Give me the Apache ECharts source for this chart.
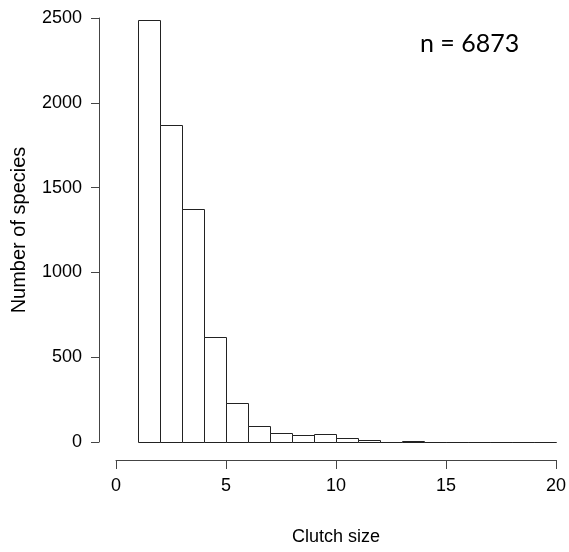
<!DOCTYPE html>
<html>
<head>
<meta charset="utf-8">
<script src="https://cdn.jsdelivr.net/npm/echarts@6/dist/echarts.min.js"></script>
<style>
  html, body { margin: 0; padding: 0; background: #fff; }
  #chart { width: 569px; height: 552px; }
</style>
</head>
<body>
<div id="chart"></div>
<script>
// histogram bins (clutch size), width 1
const binStart = [1, 2, 3, 4, 5, 6, 7, 8, 9, 10, 11, 12, 13, 14, 15, 16, 17, 18, 19]
const binEnd = [2, 3, 4, 5, 6, 7, 8, 9, 10, 11, 12, 13, 14, 15, 16, 17, 18, 19, 20]
const counts = [2490, 1872, 1376, 620, 232, 92, 55, 40, 50, 26, 12, 1, 6, 1, 0, 0, 0, 0, 0]
const xTicks = [0, 5, 10, 15, 20]
const yTicks = [0, 500, 1000, 1500, 2000, 2500]
const sampleLabel = 'n = 6873'

const data = counts.map((c, i) => [binStart[i], binEnd[i], c])

const chart = echarts.init(document.getElementById('chart'), null, { renderer: 'canvas' })

const axisFont = 'Liberation Sans, Arial, sans-serif'
const lineColor = '#444'

chart.setOption({
  animation: false,
  backgroundColor: '#fff',
  title: {
    text: sampleLabel,
    left: 420,
    top: 31,
    padding: 0,
    textStyle: { fontFamily: 'Lato, sans-serif', fontWeight: 'normal', fontSize: 25, color: '#000' },
  },
  grid: { left: 116, right: 10, top: 18, bottom: 110 },
  xAxis: {
    type: 'value',
    min: xTicks[0],
    max: xTicks[xTicks.length - 1],
    interval: 5,
    offset: 18,
    name: 'Clutch size',
    nameLocation: 'middle',
    nameGap: 68,
    nameTextStyle: { fontFamily: axisFont, fontSize: 18, color: '#000' },
    axisLine: { show: true, onZero: false, lineStyle: { color: lineColor, width: 1 } },
    axisTick: { show: true, length: 9, lineStyle: { color: lineColor } },
    axisLabel: { margin: 17, fontFamily: axisFont, fontSize: 18, color: '#000', formatter: v => String(v) },
    splitLine: { show: false },
  },
  yAxis: {
    type: 'value',
    min: yTicks[0],
    max: yTicks[yTicks.length - 1],
    interval: 500,
    offset: 17,
    name: 'Number of species',
    nameLocation: 'middle',
    nameGap: 70,
    nameTextStyle: { fontFamily: axisFont, fontSize: 20, color: '#000' },
    axisLine: { show: true, onZero: false, lineStyle: { color: lineColor, width: 1 } },
    axisTick: { show: true, length: 8, lineStyle: { color: lineColor } },
    axisLabel: { margin: 17, fontFamily: axisFont, fontSize: 18, color: '#000', formatter: v => String(v) },
    splitLine: { show: false },
  },
  series: [
    {
      type: 'custom',
      data: data,
      encode: { x: [0, 1], y: 2 },
      renderItem: function (params, api) {
        const p0 = api.coord([api.value(0), api.value(2)])
        const p1 = api.coord([api.value(1), 0])
        const x0 = Math.round(p0[0]) + 0.5
        const x1 = Math.round(p1[0]) + 0.5
        const y0 = Math.round(p0[1]) + 0.5
        const y1 = Math.round(p1[1]) + 0.5
        return {
          type: 'rect',
          shape: { x: x0, y: y0, width: x1 - x0, height: y1 - y0 },
          style: { fill: '#fff', stroke: '#222', lineWidth: 1 },
        }
      },
    },
  ],
})
</script>
</body>
</html>
